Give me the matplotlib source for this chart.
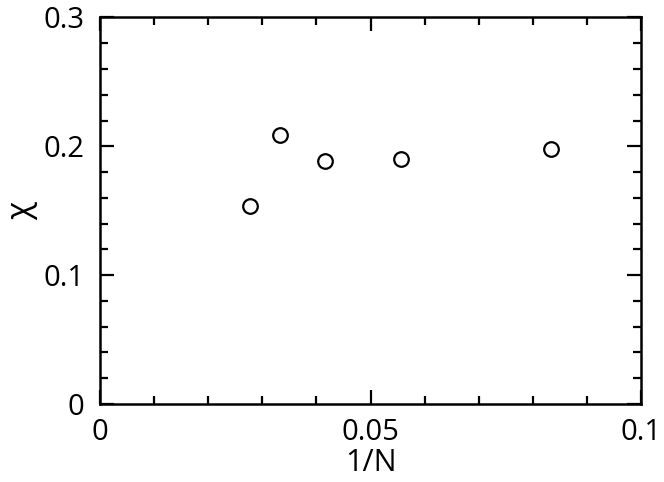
import numpy as np
import matplotlib.pyplot as plt
from matplotlib.ticker import MultipleLocator, FuncFormatter

# === Data ===
system_sizes = [36, 30, 24, 18, 12]
inv_n = [1.0 / n for n in system_sizes]
chi = [0.154, 0.209, 0.189, 0.190, 0.198]

plt.rcParams['font.family'] = ['Open Sans', 'DejaVu Sans']

fig = plt.figure(figsize=(6.64, 4.82), dpi=100)
ax = fig.add_axes([0.1506, 0.1618, 0.8148, 0.8019])

ax.plot(inv_n, chi, linestyle="none", marker="o", markersize=10.5,
        markerfacecolor="white", markeredgecolor="black", markeredgewidth=1.6)

ax.set_xlim(0, 0.1)
ax.set_ylim(0, 0.3)
ax.xaxis.set_major_locator(MultipleLocator(0.05))
ax.xaxis.set_minor_locator(MultipleLocator(0.01))
ax.yaxis.set_major_locator(MultipleLocator(0.1))
ax.yaxis.set_minor_locator(MultipleLocator(0.02))
fmt = FuncFormatter(lambda v, p: f"{v:.2f}".rstrip("0").rstrip(".") if v else "0")
ax.xaxis.set_major_formatter(fmt)
ax.yaxis.set_major_formatter(fmt)

ax.tick_params(which="both", direction="in", top=True, right=True,
               width=1.6, labelsize=21)
ax.tick_params(axis="x", pad=10)
ax.tick_params(axis="y", pad=11)
ax.tick_params(which="major", length=10)
ax.tick_params(which="minor", length=6)
for s in ax.spines.values():
    s.set_linewidth(1.8)

ax.set_xlabel("1/N", fontsize=22, labelpad=1)
ax.set_ylabel("χ", fontsize=24, labelpad=4)

fig.savefig("out.png", dpi=100)
